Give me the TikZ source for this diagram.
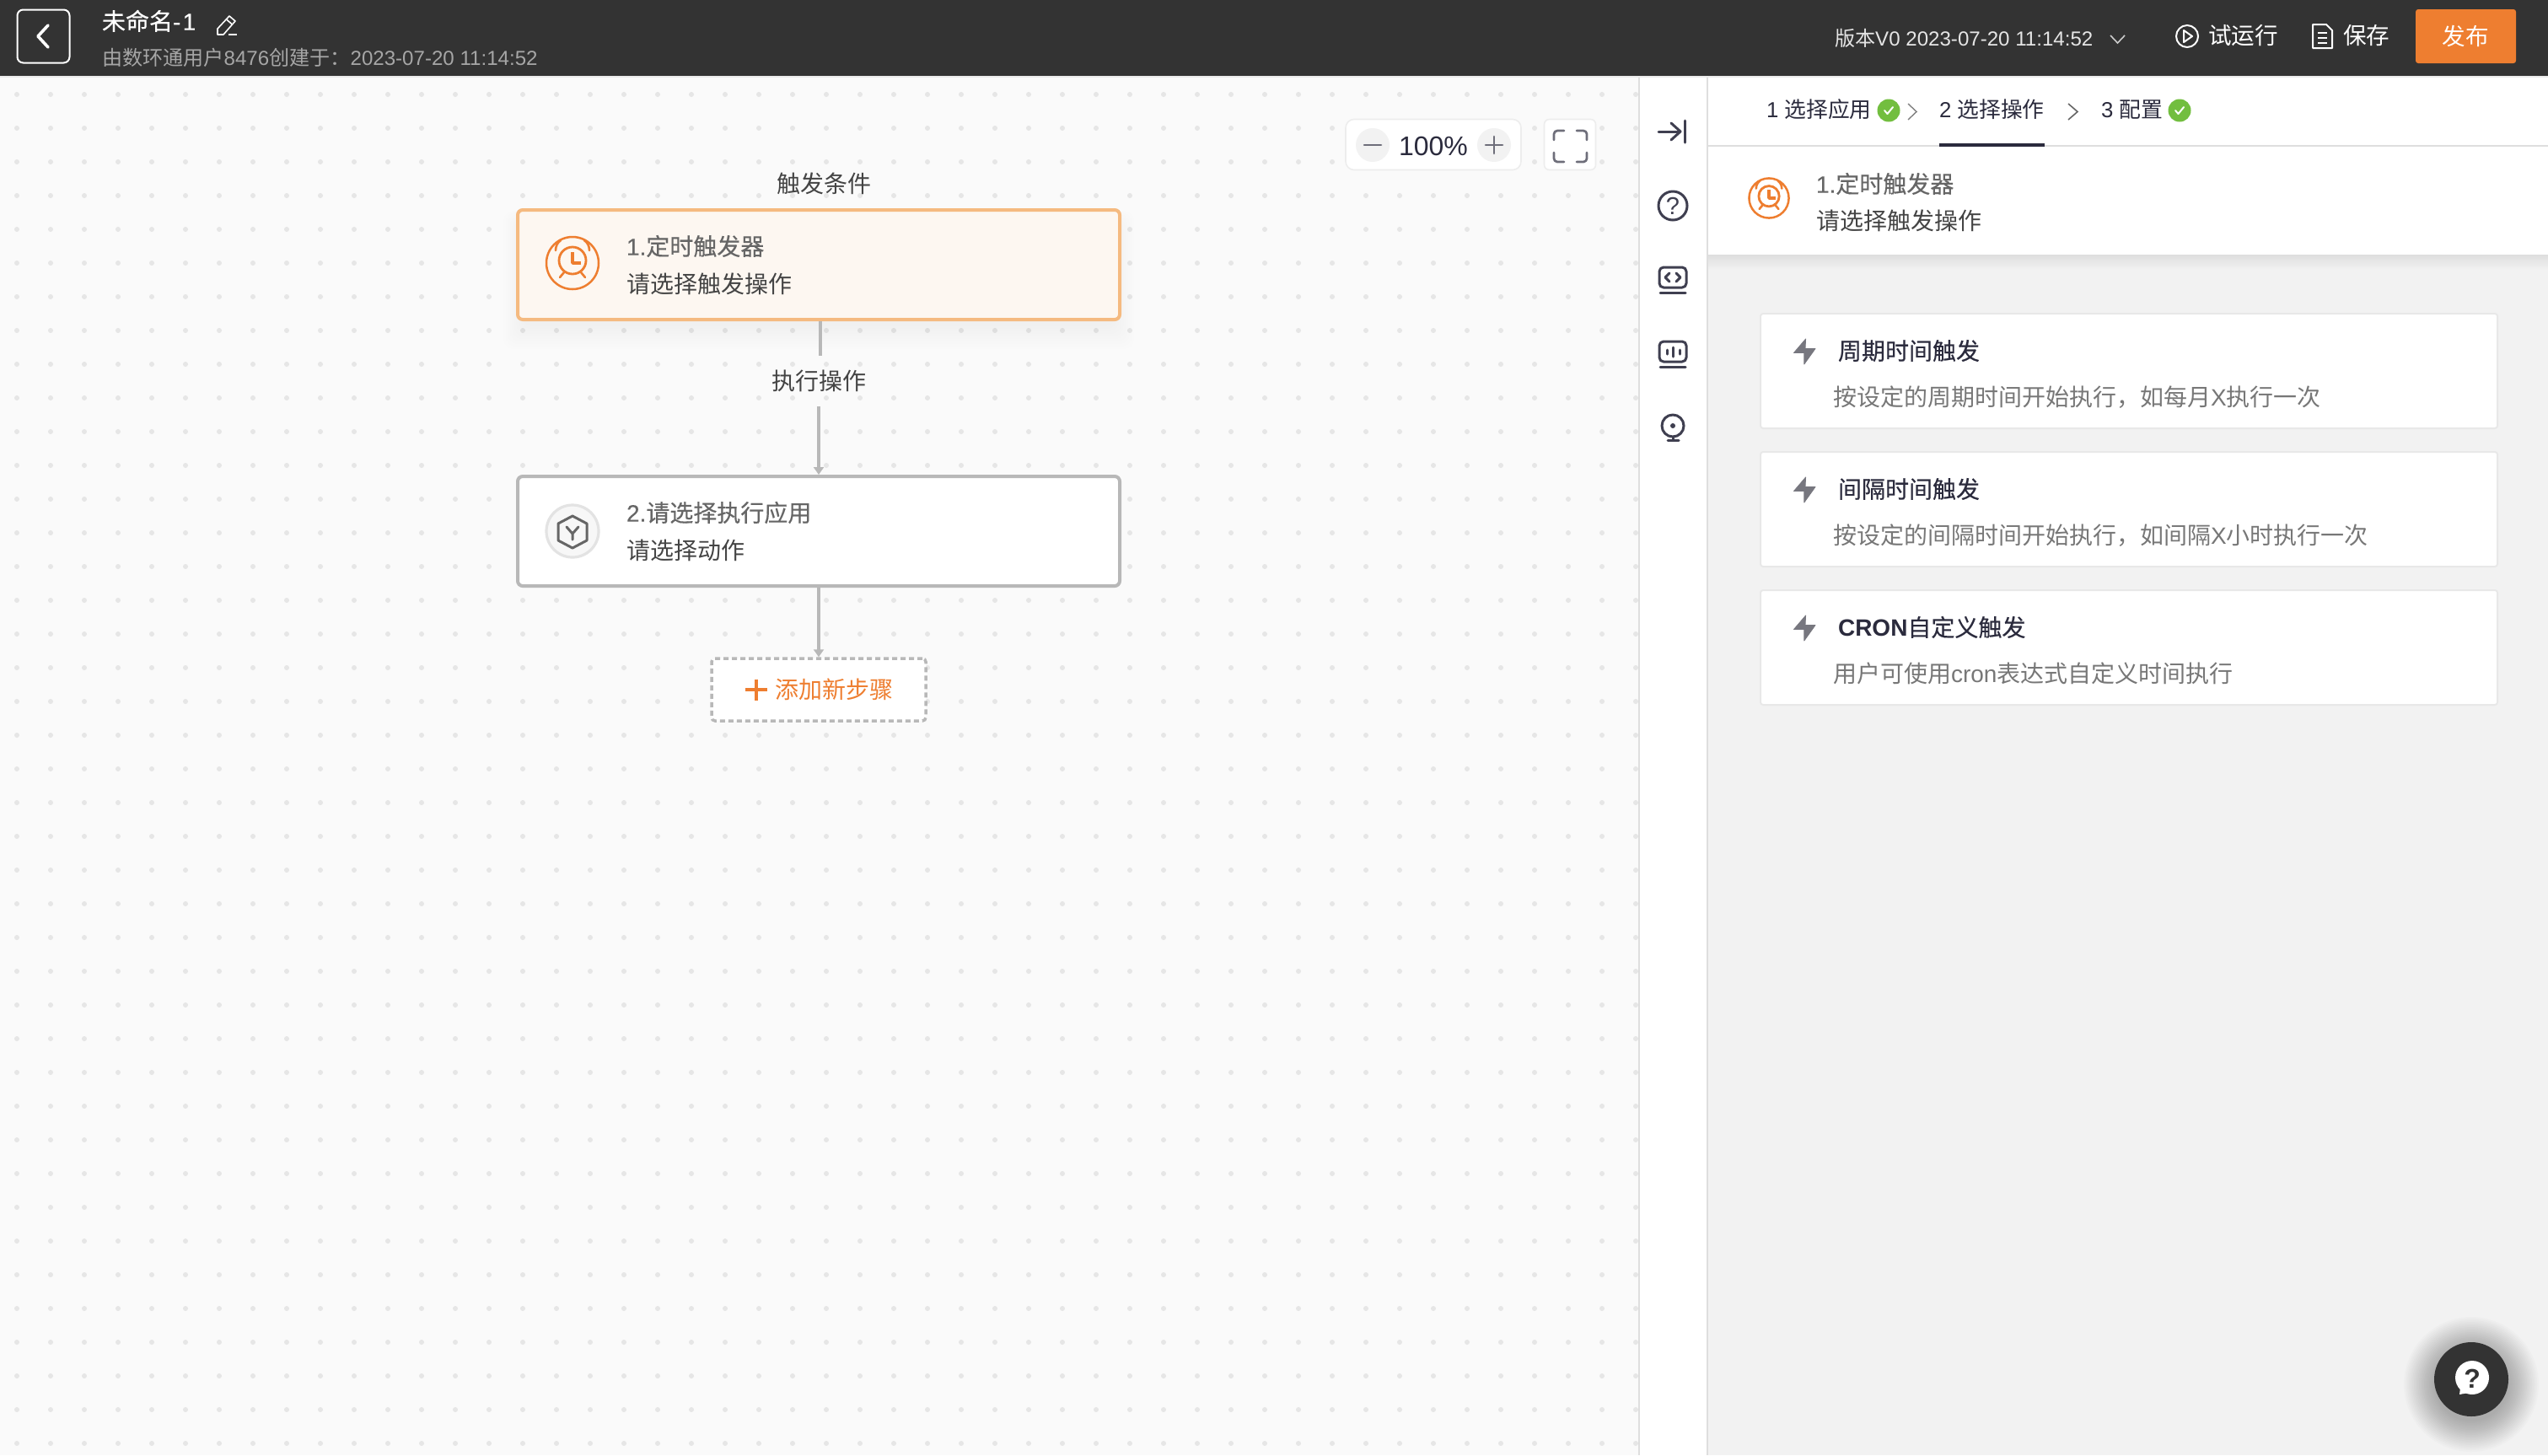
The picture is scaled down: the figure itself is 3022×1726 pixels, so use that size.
\documentclass[tikz,border=0pt]{standalone}
\usepackage{fontspec}
\usetikzlibrary{arrows.meta,shadings}
\setmainfont{Liberation Sans}
\newfontfamily\cj{Noto Sans CJK SC}
\newfontfamily\cjm[FakeBold=0.35]{Noto Sans CJK SC}
\newfontfamily\lm[FakeBold=0.3]{Liberation Sans}
\definecolor{head}{HTML}{333333}
\definecolor{orangeb}{HTML}{EE7E30}
\definecolor{orangel}{HTML}{F5BA80}
\definecolor{cream}{HTML}{FDF7F1}
\definecolor{canvas}{HTML}{FAFAFA}
\definecolor{dotc}{HTML}{E6E6E6}
\definecolor{linec}{HTML}{B8B8B8}
\definecolor{panel}{HTML}{F2F2F2}
\definecolor{sep}{HTML}{DEDEDE}
\definecolor{ink}{HTML}{2B2B3D}
\definecolor{icon}{HTML}{3F3F50}
\definecolor{icong}{HTML}{6E6E7A}
\definecolor{txt}{HTML}{444444}
\definecolor{txtm}{HTML}{666666}
\definecolor{txtl}{HTML}{777777}
\definecolor{greenc}{HTML}{72BE3F}
\definecolor{bolt}{HTML}{77777F}
\tikzset{
  lab/.style={inner sep=0pt,outer sep=0pt,anchor=west,font=\fontsize{#1}{#1}\selectfont,text height=0.88*#1pt,text depth=0.12*#1pt},
  flowcard/.style={rectangle,rounded corners=3pt,line width=2pt,minimum width=357pt,minimum height=65pt,inner sep=0pt},
  optcard/.style={rectangle,rounded corners=1.5pt,draw=#1,fill=white,line width=1pt,minimum width=437pt,minimum height=68pt,inner sep=0pt},
  flowline/.style={draw=linec,line width=1.75pt},
  ic/.style={draw=icon,line width=1.5pt,line cap=round,line join=round},
  icg/.style={draw=icong,line width=1.35pt,line cap=round,line join=round},
  boltshape/.style={fill=bolt,draw=bolt,line width=.4pt,line join=round},
}
\newcommand{\alarmicon}[3]{%
\begin{scope}[shift={(#1,#2)},scale=#3,draw=orangeb,line cap=round,line join=round]
  \draw[line width=1.25pt] (0,0) circle[radius=31];
  \draw[line width=1.4pt] (0,-3) circle[radius=16];
  \draw[line width=1.8pt,line cap=butt] (0,-13) -- (0,0) -- (10,0);
  \draw[line width=1.3pt] (-20,-15) .. controls (-20,-20) and (-18,-24) .. (-14,-27);
  \draw[line width=1.3pt] (20,-15) .. controls (20,-20) and (18,-24) .. (14,-27);
  \draw[line width=1.3pt] (-10,11) -- (-15,17);
  \draw[line width=1.3pt] (10,11) -- (15,17);
\end{scope}}
\newcommand{\okicon}[2]{%
  \fill[greenc] (#1,#2) circle[radius=13.5];
  \draw[white,line width=1pt,line cap=round,line join=round] (#1-5,#2) -- (#1-1.5,#2+4) -- (#1+5,#2-4);}
\newcommand{\bolticon}[1]{%
  \path[boltshape] (2141.6,#1) -- (2127.5,#1+16.5) -- (2139.8,#1+16.5) -- (2139.8,#1+30) -- (2153,#1+11.5) -- (2141,#1+11.5) -- cycle;}
\begin{document}
\begin{tikzpicture}[x=0.5pt,y=-0.5pt]
\useasboundingbox (0,0) rectangle (3022,1726);
% canvas
\fill[canvas] (0,0) rectangle (3022,1726);
\foreach \yy in {112,152,...,1712}{
  \foreach \xx in {20,60,...,1940}{
    \fill[dotc] (\xx,\yy) circle[radius=3];
  }
}
% side rail and panel
\fill[white] (1943,90) rectangle (2026,1726);
\draw[sep,line width=1pt] (1944,90) -- (1944,1726);
\draw[sep,line width=1pt] (2025,90) -- (2025,1726);
\fill[panel] (2026,302) rectangle (3022,1726);
\fill[white] (2026,90) rectangle (3022,302);
\shade[top color=black!13,bottom color=panel] (2026,302) rectangle (3022,320);
\draw[sep,line width=1pt] (2026,173) -- (3022,173);
\draw[ink,line width=2pt] (2300,172) -- (2425,172);
% header
\fill[head] (0,0) rectangle (3022,90);
\draw[black!8,line width=1pt] (0,91) -- (3022,91);
\node[draw=white,line width=1pt,rounded corners=3.5pt,minimum width=31pt,minimum height=31.5pt,inner sep=0pt] (backbtn) at (51.5,43) {};
\draw[white,line width=1.8pt,line cap=round,line join=round] (57,30) -- (45,43) -- (57,56);
\node[lab=14,text=white] (title) at (121,25) {{\cjm 未命名}\lm -\kern1.2pt 1};
\draw[white,line width=.8pt,line join=round] (258,41) -- (258,34) -- (272,19) -- (279,25) -- (265,41) -- cycle;
\draw[white,line width=.8pt] (268.5,23) -- (275.5,29);
\draw[white,line width=.8pt] (271,41) -- (281,41);
\node[lab=12.05,text=black!35] (subtitle) at (121,68) {{\cj 由数环通用户}8476{\cj 创建于：}2023-07-20 11:14:52};
\node[lab=12.05,text=black!10] (version) at (2176,45) {{\cj 版本}V0 2023-07-20 11:14:52};
\draw[black!20,line width=.8pt] (2503,42) -- (2511.5,51) -- (2520,42);
\draw[white,line width=1pt] (2594,43) circle[radius=13];
\draw[white,line width=1pt,line join=round] (2590,36) -- (2600,43) -- (2590,50) -- cycle;
\node[lab=13.8,text=white] (run) at (2619,42) {\cj 试运行};
\draw[white,line width=1pt,line join=round] (2743,29) -- (2759,29) -- (2766,36) -- (2766,57) -- (2743,57) -- cycle;
\draw[white,line width=1pt] (2749,39) -- (2760,39) (2749,45) -- (2760,45) (2749,51) -- (2760,51);
\node[lab=13.8,text=white] (save) at (2779,42) {\cj 保存};
\node[rectangle,fill=orangeb,rounded corners=1.5pt,minimum width=59.5pt,minimum height=32pt,inner sep=0pt,text=white,font=\fontsize{13.8}{13.8}\selectfont] (publish) at (2924.5,43) {\cj 发布};
% tabs
\node[lab=12.9,text=ink] (tab1) at (2095,130) {1 {\cj 选择应用}};
\okicon{2240}{131}
\draw[black!50,line width=.7pt] (2263,123) -- (2273,132.5) -- (2263,142);
\node[lab=12.9,text=ink] (tab2) at (2300,130) {2 {\cj 选择操作}};
\draw[black!60,line width=.8pt] (2453,123) -- (2464,132.5) -- (2453,142);
\node[lab=12.9,text=ink] (tab3) at (2492,130) {3 {\cj 配置}};
\okicon{2585}{131}
% panel header
\alarmicon{2098}{235}{0.76}
\node[lab=14,text=txtm] (ph1) at (2154,218) {\lm 1.{\cjm 定时触发器}};
\node[lab=14,text=txt] (ph2) at (2154,262) {\cj 请选择触发操作};
% zoom control
\node[rectangle,draw=black!7,fill=white,line width=.8pt,rounded corners=5pt,minimum width=104pt,minimum height=30pt,inner sep=0pt] (zoombox) at (1700,171.5) {};
\fill[panel] (1628,172) circle[radius=20];
\fill[panel] (1772,172) circle[radius=20];
\draw[icg] (1618,172) -- (1638,172);
\draw[icg] (1762,172) -- (1782,172) (1772,162) -- (1772,182);
\node[lab=16,anchor=center,text=ink] (zoomtext) at (1700,172) {100\%};
\node[rectangle,draw=black!7,fill=white,line width=.8pt,rounded corners=3pt,minimum width=30.5pt,minimum height=30pt,inner sep=0pt] (fullbox) at (1862,171.5) {};
\begin{scope}[rounded corners=2pt]
\draw[icg] (1843,166) -- (1843,155) -- (1855,155);
\draw[icg] (1870,155) -- (1882,155) -- (1882,166);
\draw[icg] (1843,181) -- (1843,192) -- (1855,192);
\draw[icg] (1870,192) -- (1882,192) -- (1882,181);
\end{scope}
% side icons
\draw[ic] (1967,156) -- (1992,156);
\draw[ic] (1982,146) -- (1993,156) -- (1982,166);
\draw[ic] (1998,143) -- (1998,169);
\draw[ic] (1984,244) circle[radius=17];
\node[lab=14.5,anchor=center,text=icon] (qmark) at (1984,243) {?};
\draw[ic,rounded corners=2.5pt] (1968,317) rectangle (2000,341);
\draw[ic] (1980,324) -- (1975,329) -- (1980,334);
\draw[ic] (1988,324) -- (1993,329) -- (1988,334);
\draw[ic] (1969,347) -- (1999,347);
\draw[ic,rounded corners=2.5pt] (1968,405) rectangle (2000,429);
\draw[ic] (1977,415) -- (1977,420) (1984,412) -- (1984,423) (1992,415) -- (1992,420);
\draw[ic] (1969,435) -- (1999,435);
\draw[ic] (1984,505) circle[radius=13];
\fill[icon] (1984,505) circle[radius=3];
\draw[ic] (1984,518) -- (1984,522) (1978,522.5) -- (1991,522.5);
% flow
\foreach \i in {1,...,10}{
  \fill[blue!30!black,opacity=0.005,rounded corners=6pt] (622-2.5*\i,270-2*\i) rectangle (1320+2.5*\i,384+3*\i);
}
\node[lab=14,anchor=center,text=txt] (trig) at (977,218) {\cj 触发条件};
\node[flowcard,draw=orangel,fill=cream] (card1) at (971,314) {};
\alarmicon{679}{312}{1}
\node[lab=14,text=txtm] (c1a) at (743,292) {\lm 1.{\cjm 定时触发器}};
\node[lab=14,text=txt] (c1b) at (743,336.5) {\cj 请选择触发操作};
\node[lab=14,anchor=center,minimum height=30pt,text=txt] (exec) at (971,452) {\cj 执行操作};
\node[flowcard,draw=linec,fill=white] (card2) at (971,630) {};
\draw[draw=black!11,fill=black!3,line width=1.6pt] (679,630) circle[radius=31];
\begin{scope}[shift={(679,631)},draw=txtm,line width=1.5pt,line join=round,line cap=round]
\draw (0,-19) -- (17,-10) -- (17,10) -- (0,19) -- (-17,10) -- (-17,-10) -- cycle;
\draw (-7,-6) -- (0,2) -- (7,-6) (0,2) -- (0,9);
\end{scope}
\node[lab=14,text=txtm] (c2a) at (743,608) {\lm 2.{\cjm 请选择执行应用}};
\node[lab=14,text=txt] (c2b) at (743,652.5) {\cj 请选择动作};
\node[rectangle,draw=linec,fill=white,dash pattern=on 3pt off 2pt,line width=1.75pt,rounded corners=2pt,minimum width=127pt,minimum height=37pt,inner sep=0pt] (addbox) at (971,818) {};
\draw[orangeb,line width=1.75pt] (884,818) -- (910,818) (897,805.5) -- (897,830.5);
\node[lab=14,text=orangeb] (addtext) at (919,818) {\cj 添加新步骤};
\draw[flowline] ([xshift=1pt]card1.south) -- ([xshift=1pt]exec.north);
\draw[flowline,-{Triangle[width=6pt,length=4.5pt]}] (exec.south) -- (card2.north);
\draw[flowline,-{Triangle[width=6pt,length=4.5pt]}] (card2.south) -- (addbox.north);
% option cards
\node[optcard=black!9] (opt1) at (2525,440) {};
\node[optcard=black!9] (opt2) at (2525,604) {};
\node[optcard=black!9] (opt3) at (2525,768) {};
\bolticon{402}
\bolticon{566}
\bolticon{730}
\node[lab=14,text=ink] (o1t) at (2180,416) {\cjm 周期时间触发};
\node[lab=14,text=txtl] (o1d) at (2174,470.5) {{\cj 按设定的周期时间开始执行，如每月}X{\cj 执行一次}};
\node[lab=14,text=ink] (o2t) at (2180,580) {\cjm 间隔时间触发};
\node[lab=14,text=txtl] (o2d) at (2174,634.5) {{\cj 按设定的间隔时间开始执行，如间隔}X{\cj 小时执行一次}};
\node[lab=14,text=ink] (o3t) at (2180,744) {{\bfseries CRON}{\cjm 自定义触发}};
\node[lab=14,text=txtl] (o3d) at (2174,798.5) {{\cj 用户可使用}cron{\cj 表达式自定义时间执行}};
% help button
\foreach \r in {44,46,...,80}{
  \fill[black,opacity=0.016] (2931,1642) circle[radius=\r];
}
\fill[head] (2931,1636) circle[radius=44];
\fill[white] (2932,1634) circle[radius=20];
\fill[white] (2918,1646) -- (2917,1654) -- (2928,1652) -- cycle;
\node[lab=16,anchor=center,text=head,font=\fontsize{16}{16}\selectfont\bfseries] (helpq) at (2932,1634) {?};
\end{tikzpicture}
\end{document}
